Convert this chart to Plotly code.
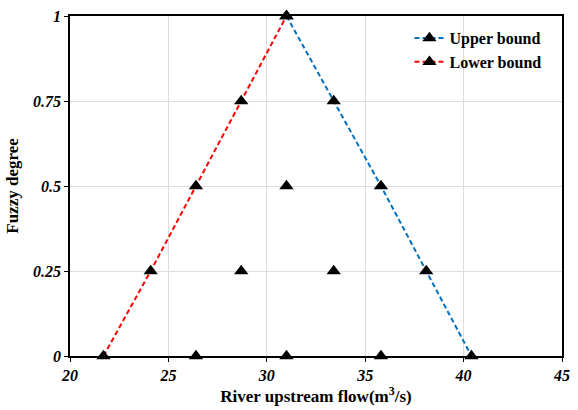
import plotly.graph_objects as go

upper_x = [31.0, 33.4, 35.8, 38.1, 40.4]
upper_y = [1.0, 0.75, 0.5, 0.25, 0.0]
lower_x = [21.7, 24.1, 26.4, 28.7, 31.0]
lower_y = [0.0, 0.25, 0.5, 0.75, 1.0]
inner_x = [26.4, 31.0, 35.8, 28.7, 33.4, 31.0]
inner_y = [0.0, 0.0, 0.0, 0.25, 0.25, 0.5]

x_ticks = [20, 25, 30, 35, 40, 45]
y_ticks = [0, 0.25, 0.5, 0.75, 1]
y_ticklabels = ["0", "0.25", "0.5", "0.75", "1"]

FONT = "Liberation Serif"
marker = dict(symbol="triangle-up", size=12.5, color="black")

fig = go.Figure()
fig.add_trace(go.Scatter(x=upper_x, y=upper_y, mode="lines+markers", name="Upper bound",
                         line=dict(color="#0070C0", width=2, dash="5px,3px"), marker=marker,
                         cliponaxis=False))
fig.add_trace(go.Scatter(x=lower_x, y=lower_y, mode="lines+markers", name="Lower bound",
                         line=dict(color="#FF0000", width=2, dash="5px,3px"), marker=marker,
                         cliponaxis=False))
fig.add_trace(go.Scatter(x=inner_x, y=inner_y, mode="markers", showlegend=False,
                         marker=marker, cliponaxis=False))

axis_common = dict(showline=True, linecolor="black", linewidth=1.5, mirror=True,
                   showgrid=True, gridcolor="#DDDDDD", gridwidth=1,
                   ticks="outside", ticklen=4, tickcolor="black", zeroline=False,
                   tickfont=dict(family=FONT, size=16, color="black", weight="bold", style="italic"))

fig.update_layout(
    width=578, height=410, autosize=False,
    margin=dict(l=70, r=8, t=15, b=52),
    paper_bgcolor="white", plot_bgcolor="white",
    font=dict(family=FONT, color="black"),
    xaxis=dict(range=[20, 45], tickvals=x_ticks,
               title=dict(text="River upstream flow(m<sup>3</sup>/s)", standoff=6,
                          font=dict(family=FONT, size=17, weight="bold")),
               **axis_common),
    yaxis=dict(range=[0, 1], tickvals=y_ticks, ticktext=y_ticklabels,
               title=dict(text="Fuzzy degree", standoff=10,
                          font=dict(family=FONT, size=17, weight="bold")),
               **axis_common),
    legend=dict(x=0.69, y=0.985, xanchor="left", yanchor="top",
                bgcolor="rgba(255,255,255,0)",
                font=dict(family=FONT, size=16, weight="bold"),
                itemwidth=30, tracegroupgap=2),
)

html = fig.to_html(full_html=True, include_plotlyjs=True,
                   config={"displayModeBar": False, "responsive": False})
html = html.replace("<head>", "<head><style>html,body{margin:0;padding:0;overflow:hidden;}</style>", 1)
with open("out.html", "w", encoding="utf-8") as f:
    f.write(html)
